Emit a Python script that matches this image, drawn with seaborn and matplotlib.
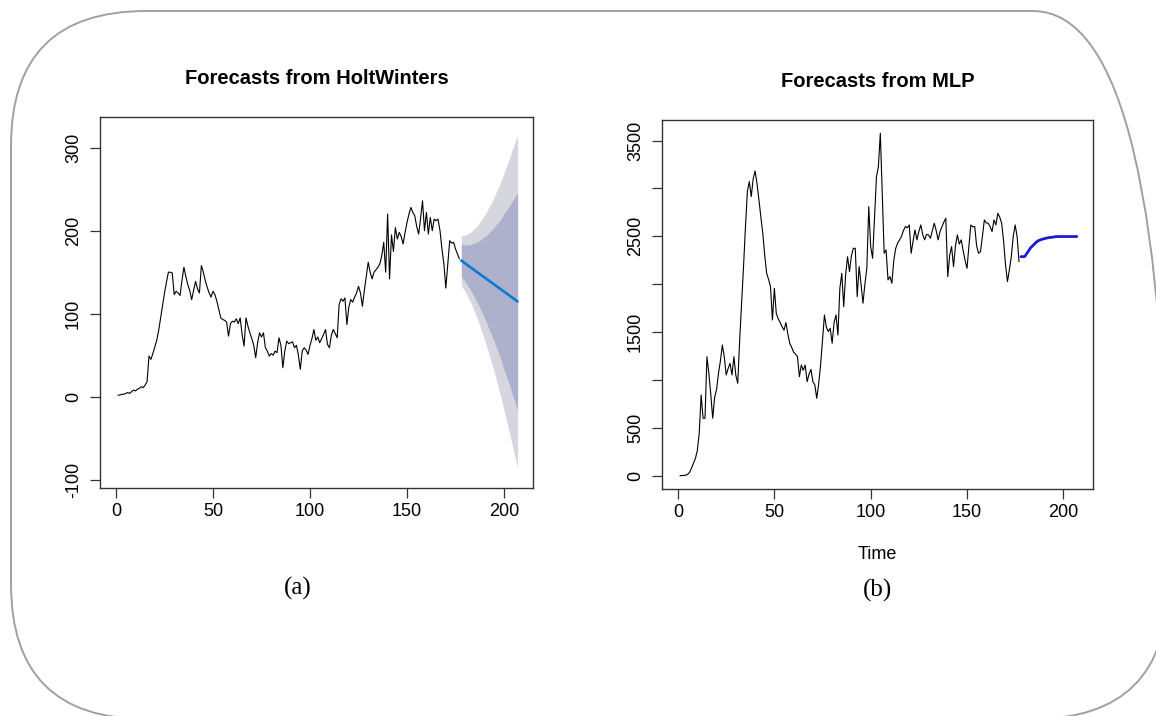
import numpy as np
import matplotlib
matplotlib.use("Agg")
import matplotlib.pyplot as plt
from matplotlib.patches import FancyBboxPatch
import seaborn as sns

# ---- data ----
hw_series = [
    2, 2, 3, 3, 4, 5, 4, 6, 8, 7,
    9, 10, 12, 11, 14, 18, 49, 45, 52, 60,
    68, 80, 95, 110, 125, 138, 150, 150, 149, 123,
    127, 125, 122, 140, 156, 145, 135, 128, 117, 128,
    139, 130, 125, 158, 150, 140, 132, 125, 120, 127,
    123, 115, 105, 95, 93, 92, 90, 73, 88, 91,
    90, 94, 88, 95, 75, 61, 95, 85, 77, 70,
    62, 47, 65, 77, 72, 77, 59, 55, 49, 52,
    50, 55, 53, 71, 62, 35, 55, 67, 64, 65,
    66, 59, 62, 50, 33, 55, 59, 56, 51, 62,
    70, 81, 68, 72, 65, 70, 75, 81, 63, 59,
    74, 81, 76, 71, 111, 118, 115, 119, 87, 108,
    117, 114, 120, 125, 133, 125, 109, 128, 145, 162,
    150, 142, 150, 153, 156, 160, 170, 186, 150, 220,
    142, 195, 175, 204, 190, 198, 193, 184, 198, 210,
    220, 228, 222, 218, 205, 196, 215, 236, 200, 222,
    196, 216, 200, 214, 212, 214, 200, 178, 160, 131,
    160, 188, 185, 186, 178, 172, 166,
]
hw_forecast = [
    164.0, 162.3, 160.6, 158.9, 157.2, 155.5, 153.8, 152.1, 150.4, 148.7,
    147.0, 145.3, 143.6, 141.9, 140.2, 138.5, 136.8, 135.1, 133.4, 131.7,
    130.0, 128.3, 126.6, 124.9, 123.2, 121.5, 119.8, 118.1, 116.4, 114.7,
]
# half widths of the 80% and 95% prediction intervals
hw_halfwidth80 = [
    20, 21, 22, 24, 26, 28, 31, 33, 36, 39,
    42, 46, 49, 53, 57, 61, 65, 69, 74, 78,
    83, 88, 94, 99, 104, 109, 115, 120, 126, 131,
]
hw_halfwidth95 = [
    30, 32, 34, 37, 40, 43, 47, 51, 55, 60,
    65, 70, 75, 81, 87, 93, 99, 106, 113, 120,
    127, 135, 143, 151, 159, 167, 176, 184, 192, 200,
]

mlp_series = [
    0, 2, 3, 5, 15, 35, 80, 129, 180, 260,
    442, 843, 600, 600, 1243, 1069, 850, 600, 820, 900,
    1069, 1200, 1365, 1243, 1052, 1120, 1174, 1052, 1243, 1050,
    965, 1418, 1800, 2184, 2600, 2968, 3072, 2915, 3100, 3183,
    3050, 2880, 2700, 2532, 2300, 2114, 2050, 1975, 1627, 1957,
    1696, 1640, 1600, 1557, 1520, 1599, 1480, 1383, 1340, 1290,
    1270, 1243, 1034, 1156, 1100, 1156, 982, 1060, 1111, 982,
    950, 808, 960, 1156, 1418, 1679, 1550, 1505, 1539, 1383,
    1600, 1679, 1470, 1957, 2114, 1766, 2100, 2288, 2131, 2300,
    2375, 2375, 1870, 2184, 2000, 1801, 2000, 2166, 2811, 2393,
    2271, 2689, 3124, 3229, 3577, 2950, 2323, 2358, 2045, 2080,
    2010, 2250, 2375, 2430, 2463, 2500, 2560, 2602, 2590, 2619,
    2323, 2450, 2567, 2463, 2550, 2619, 2520, 2463, 2520, 2515,
    2480, 2560, 2637, 2560, 2463, 2550, 2600, 2650, 2689, 2079,
    2300, 2393, 2184, 2400, 2515, 2420, 2463, 2350, 2250, 2166,
    2400, 2619, 2600, 2602, 2400, 2323, 2340, 2500, 2671, 2640,
    2637, 2600, 2550, 2671, 2620, 2741, 2700, 2637, 2450, 2200,
    2027, 2150, 2288, 2500, 2619, 2500, 2236,
]
mlp_forecast = [
    2288, 2288, 2290, 2320, 2350, 2380, 2400, 2420, 2440, 2455,
    2462, 2470, 2475, 2480, 2485, 2488, 2490, 2493, 2497, 2497,
    2498, 2498, 2498, 2498, 2498, 2498, 2498, 2498, 2498, 2498,
]

x_ticks = [0, 50, 100, 150, 200]
hw_yticks = [-100, 0, 100, 200, 300]
mlp_yticks = [0, 500, 1000, 1500, 2000, 2500, 3000, 3500]
mlp_ylabels = ["0", "500", "", "1500", "", "2500", "", "3500"]

# ---- style ----
sns.set_theme(style="white")
plt.rcParams["font.family"] = ["Liberation Sans", "DejaVu Sans"]
plt.rcParams["axes.unicode_minus"] = False
plt.rcParams["text.color"] = "black"
plt.rcParams["axes.labelcolor"] = "black"
plt.rcParams["xtick.color"] = "black"
plt.rcParams["ytick.color"] = "black"

t_obs = np.arange(1, len(hw_series) + 1)
t_fc = np.arange(len(hw_series) + 1, len(hw_series) + 1 + len(hw_forecast))
hw_fc = np.array(hw_forecast)
hw80 = np.array(hw_halfwidth80)
hw95 = np.array(hw_halfwidth95)

fig = plt.figure(figsize=(11.56, 7.16), dpi=100)
fig.patch.set_facecolor("white")

ax1 = fig.add_axes([0.0865, 0.3184, 0.3746, 0.5182])
ax2 = fig.add_axes([0.5727, 0.3170, 0.3728, 0.5154])

# left: HoltWinters
ax1.fill_between(t_fc, hw_fc - hw95, hw_fc + hw95, color="#D6D6DE", lw=0)
ax1.fill_between(t_fc, hw_fc - hw80, hw_fc + hw80, color="#AEB1CC", lw=0)
sns.lineplot(x=t_obs, y=hw_series, ax=ax1, color="black", lw=0.8)
sns.lineplot(x=t_fc, y=hw_forecast, ax=ax1, color="#0A78D8", lw=1.9)
ax1.set_xlim(-8.25, 214.95)
ax1.set_ylim(-110, 337)
ax1.set_yticks(hw_yticks)
ax1.set_yticklabels([str(v) for v in hw_yticks])
ax1.set_title("Forecasts from HoltWinters", fontsize=14.5, fontweight="bold", pad=24)

# right: MLP
sns.lineplot(x=t_obs, y=mlp_series, ax=ax2, color="black", lw=0.8)
sns.lineplot(x=t_fc, y=mlp_forecast, ax=ax2, color="#1C1CCF", lw=2.0)
ax2.set_xlim(-8.3, 215.4)
ax2.set_ylim(-139, 3715)
ax2.set_yticks(mlp_yticks)
ax2.set_yticklabels(mlp_ylabels)
ax2.set_title("Forecasts from MLP", fontsize=14.5, fontweight="bold", pad=24)
ax2.set_xlabel("Time", fontsize=13, labelpad=18)

for ax in (ax1, ax2):
    ax.set_xticks(x_ticks)
    ax.set_xticklabels([str(v) for v in x_ticks])
    ax.tick_params(axis="both", direction="out", length=7, width=0.9,
                   color="#333333", labelcolor="black", labelsize=13, pad=4,
                   bottom=True, left=True)
    ax.tick_params(axis="y", labelrotation=90, pad=6)
    for lab in ax.get_yticklabels():
        lab.set_va("center")
    for sp in ax.spines.values():
        sp.set_visible(True)
        sp.set_color("#333333")
        sp.set_linewidth(1.0)
    ax.set_ylabel("")

fig.text(0.2578, 0.1788, "(a)", fontsize=18, family=["Liberation Serif"],
         ha="center", va="center")
fig.text(0.7587, 0.1760, "(b)", fontsize=18, family=["Liberation Serif"],
         ha="center", va="center")

# rounded frame around the whole panel (right and bottom edges run off the image)
frame = FancyBboxPatch((0.11, -0.03), 11.57, 7.08,
                       boxstyle="round,pad=0,rounding_size=1.35",
                       transform=fig.dpi_scale_trans, fill=False,
                       edgecolor="#A0A0A0", lw=1.4, clip_on=False)
fig.patches.append(frame)

fig.savefig("out.png", dpi=100)
